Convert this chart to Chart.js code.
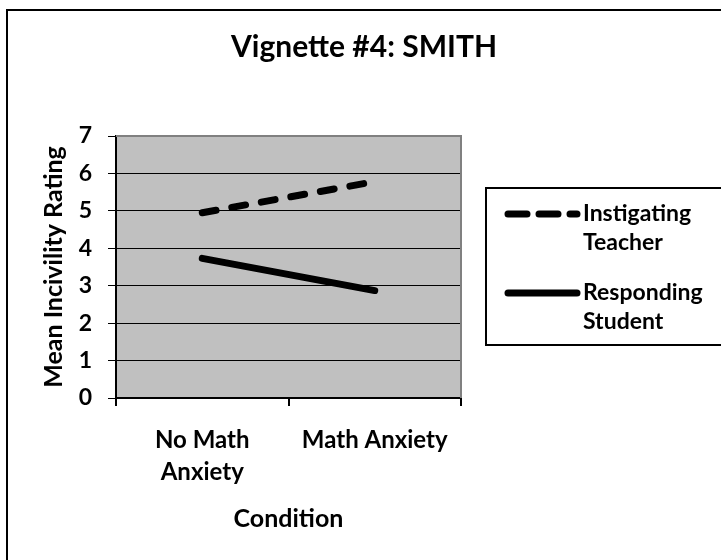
<!DOCTYPE html>
<html>
<head>
<meta charset="utf-8">
<script src="https://cdn.jsdelivr.net/npm/chart.js@4/dist/chart.umd.min.js"></script>
<style>
html,body{margin:0;padding:0;background:#fff;}
#wrap{position:relative;width:721px;height:560px;}
</style>
</head>
<body>
<div id="wrap"><canvas id="c" width="721" height="560"></canvas></div>
<script>
const chartTitle = "Vignette #4: SMITH";
const categories = [["No Math", "Anxiety"], "Math Anxiety"];
const seriesNames = [["Instigating", "Teacher"], ["Responding", "Student"]];
const teacherValues = [4.95, 5.78];
const studentValues = [3.73, 2.87];
const yTicks = [0, 1, 2, 3, 4, 5, 6, 7];
const xAxisTitle = "Condition";
const yAxisTitle = "Mean Incivility Rating";

const FONT = "Lato, 'Liberation Sans', sans-serif";

const framePlugin = {
  id: 'frame',
  beforeDraw(chart) {
    const ctx = chart.ctx, a = chart.chartArea;
    ctx.save();
    ctx.fillStyle = '#fff';
    ctx.fillRect(0, 0, chart.width, chart.height);
    ctx.strokeStyle = '#000';
    ctx.lineWidth = 2;
    ctx.strokeRect(7, 10, chart.width + 20, chart.height + 20);
    ctx.fillStyle = '#c0c0c0';
    ctx.fillRect(a.left, a.top, a.right - a.left, a.bottom - a.top);
    ctx.restore();
  },
  beforeDatasetsDraw(chart) {
    const ctx = chart.ctx, a = chart.chartArea;
    ctx.save();
    ctx.strokeStyle = '#808080';
    ctx.lineWidth = 2;
    ctx.beginPath();
    ctx.moveTo(a.left, a.top);
    ctx.lineTo(a.right, a.top);
    ctx.lineTo(a.right, a.bottom);
    ctx.stroke();
    ctx.restore();
  },
  afterDraw(chart) {
    const ctx = chart.ctx;
    ctx.save();
    // title
    ctx.fillStyle = '#000';
    ctx.font = "bold 30px " + FONT;
    ctx.textAlign = 'center';
    ctx.textBaseline = 'middle';
    ctx.fillText(chartTitle, 364, 47);
    // legend box
    ctx.strokeStyle = '#000';
    ctx.lineWidth = 2;
    ctx.strokeRect(486, 188, 260, 157);
    const rows = [214, 293];
    chart.data.datasets.forEach((ds, i) => {
      const y = rows[i];
      ctx.strokeStyle = ds.borderColor;
      ctx.lineWidth = 7;
      ctx.lineCap = 'round';
      ctx.setLineDash(ds.borderDash && ds.borderDash.length ? [19, 12] : []);
      ctx.beginPath();
      ctx.moveTo(508, y);
      ctx.lineTo(577, y);
      ctx.stroke();
      ctx.setLineDash([]);
      ctx.fillStyle = '#000';
      ctx.font = "bold 23px " + FONT;
      ctx.textAlign = 'left';
      ctx.textBaseline = 'middle';
      ds.legendLines.forEach((t, j) => ctx.fillText(t, 583, y + j * 29));
    });
    ctx.restore();
  }
};

new Chart(document.getElementById('c'), {
  type: 'line',
  data: {
    labels: categories,
    datasets: [
      {
        label: seriesNames[0].join(' '),
        legendLines: seriesNames[0],
        data: teacherValues,
        borderColor: '#000',
        borderWidth: 7,
        borderDash: [14, 16],
        borderCapStyle: 'round',
        pointRadius: 0,
        fill: false
      },
      {
        label: seriesNames[1].join(' '),
        legendLines: seriesNames[1],
        data: studentValues,
        borderColor: '#000',
        borderWidth: 7,
        borderCapStyle: 'round',
        pointRadius: 0,
        fill: false
      }
    ]
  },
  options: {
    responsive: false,
    animation: false,
    layout: { padding: { top: 136, right: 260, left: 0, bottom: 0 } },
    plugins: { legend: { display: false }, title: { display: false }, tooltip: { enabled: false } },
    scales: {
      x: {
        offset: true,
        grid: { offset: true, drawOnChartArea: false, drawTicks: true, tickLength: 8, color: '#000', lineWidth: 2 },
        border: { color: '#000', width: 2 },
        ticks: { color: '#000', font: { family: FONT, size: 24, weight: 'bold', lineHeight: 1.3 }, padding: 19, maxRotation: 0 },
        title: { display: true, text: xAxisTitle, color: '#000', font: { family: FONT, size: 25, weight: 'bold', lineHeight: 1.2 }, padding: { top: 0, bottom: 26 } },
        afterFit(s) { s.height = 162; }
      },
      y: {
        min: yTicks[0],
        max: yTicks[yTicks.length - 1],
        afterBuildTicks(s) { s.ticks = yTicks.map(v => ({ value: v })); },
        grid: { color: '#000', lineWidth: 1, tickLength: 8, drawTicks: true },
        border: { color: '#000', width: 2 },
        ticks: { color: '#000', font: { family: FONT, size: 23, weight: 'bold' }, padding: 16 },
        title: { display: true, text: yAxisTitle, color: '#000', font: { family: FONT, size: 25, weight: 'bold', lineHeight: 1.2 }, padding: { top: 39, bottom: 0 } },
        afterFit(s) { s.width = 116; }
      }
    }
  },
  plugins: [framePlugin]
});
</script>
</body>
</html>
